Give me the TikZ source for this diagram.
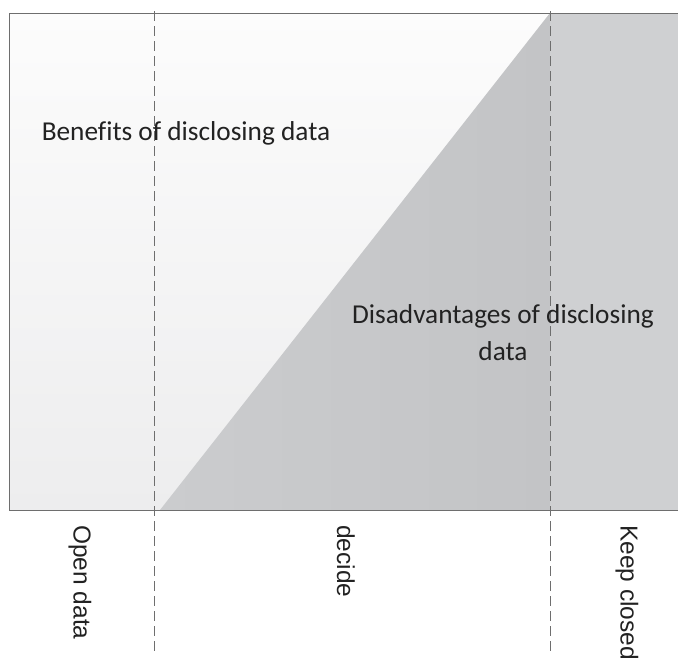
\documentclass[tikz,border=0pt]{standalone}
\usepackage{fontspec}
\setmainfont{Carlito}[Ligatures=CommonOff]
\newfontfamily\zonefont{Liberation Sans}
\usetikzlibrary{positioning}

\definecolor{lightTop}{HTML}{FCFCFC}
\definecolor{lightBot}{HTML}{EDEDEE}
\definecolor{wedgeL}{HTML}{CBCCCE}
\definecolor{wedgeR}{HTML}{C3C4C6}
\definecolor{closedGray}{HTML}{CFD0D2}
\definecolor{frameGray}{HTML}{6E6E6E}
\definecolor{textGray}{HTML}{222222}

\begin{document}
\begin{tikzpicture}[x=1pt,y=-1pt,
  divider/.style={draw=frameGray, dash pattern=on 10pt off 5pt, line width=0.9pt},
  frame/.style={draw=frameGray, line width=1pt},
  zone/.style={font=\zonefont\fontsize{24.5}{28}\selectfont, text=textGray, rotate=-90, anchor=west, inner sep=0pt},
  area/.style={font=\fontsize{27.3}{37}\selectfont, text=textGray, align=center}]
\useasboundingbox (0,0) rectangle (678,659);

% regions
\shade[top color=lightTop, bottom color=lightBot] (9,13) rectangle (678,510);
\shade[left color=wedgeL, right color=wedgeR] (160,510) -- (550,13) -- (550,510) -- cycle;
\fill[closedGray] (550,13) rectangle (678,510);

% frame
\draw[frame] (678,13) -- (9,13) -- (9,510) -- (678,510);

% dividers
\coordinate (openTop) at (154,11);
\coordinate (openBot) at (154,652);
\coordinate (closedTop) at (550,11);
\coordinate (closedBot) at (550,652);

\draw[divider] (openTop) -- (openBot);
\draw[divider] (closedTop) -- (closedBot);

% labels
\node[area](benefits) at (186,133){Benefits of disclosing data};
\node[area](disadv) at (503,333){Disadvantages of disclosing\\data};

\node[zone](open) at (80,525){Open data};
\node[zone](decide) at (346,525){decide};
\node[zone](closed) at (627,525){Keep closed};
\end{tikzpicture}
\end{document}
